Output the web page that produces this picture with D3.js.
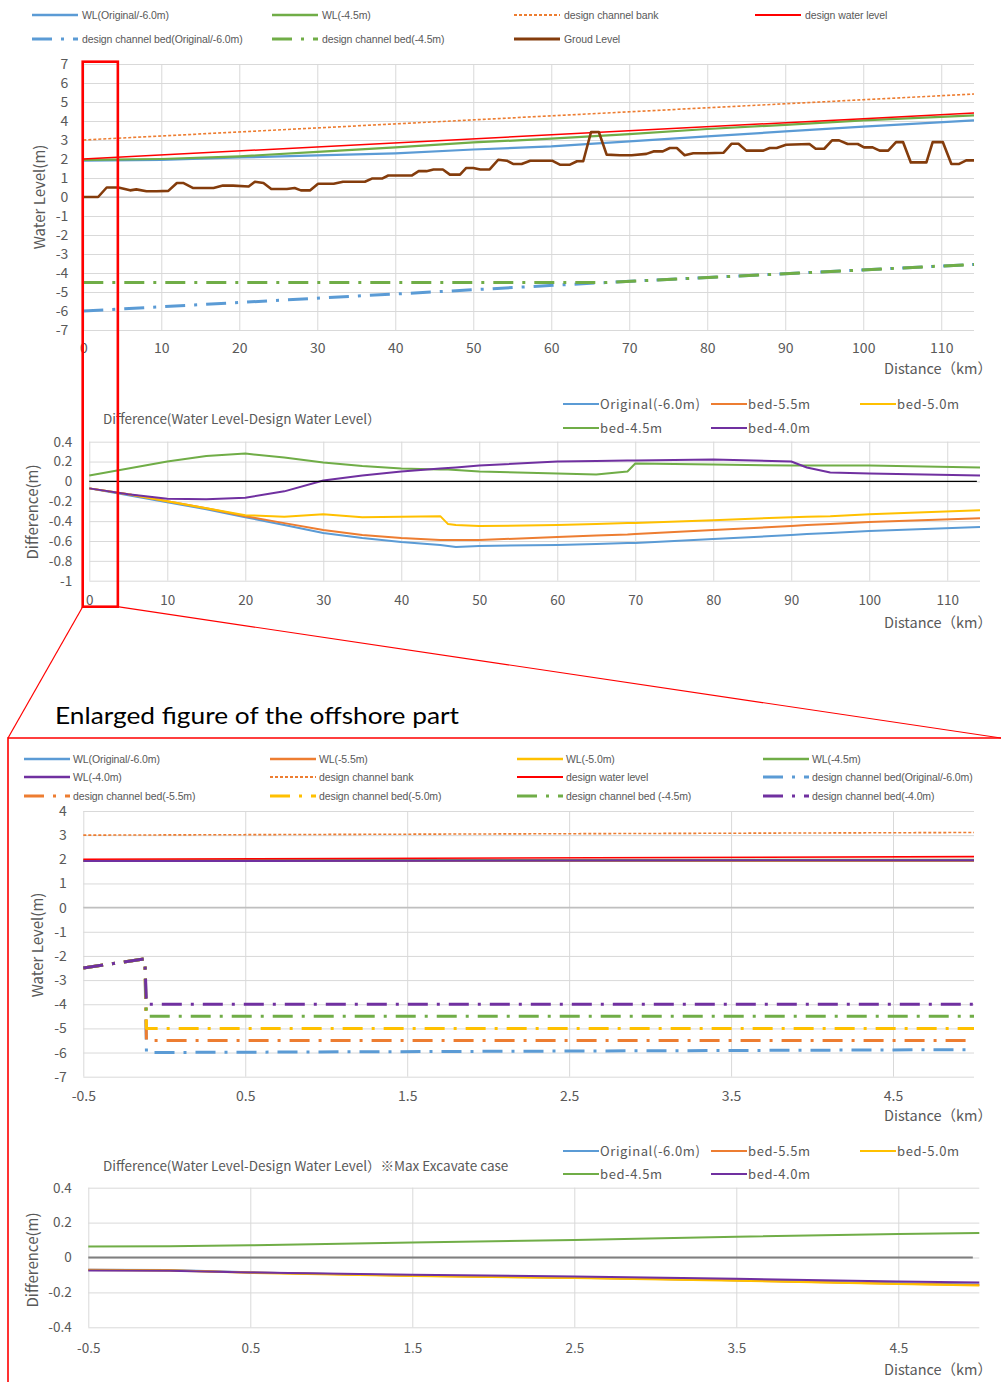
<!DOCTYPE html>
<html>
<head>
<meta charset="utf-8">
<script src="https://cdn.jsdelivr.net/npm/d3@7"></script>
<style>
  body { margin: 0; background: #fff; }
  svg text { font-family: "Noto Sans CJK JP", "Noto Sans", sans-serif; fill: #595959; }
</style>
</head>
<body>
<svg id="fig" width="1001" height="1382"></svg>
<script>
// ---------- Whole river: water level profile (km 0 - 114) ----------
const wlKm        = [0, 10, 20, 30, 40, 50, 60, 70, 80, 90, 100, 114.2];
const wlOriginal  = [1.91, 1.95, 2.08, 2.19, 2.30, 2.50, 2.66, 2.93, 3.19, 3.45, 3.70, 4.03];
const wlBed45     = [1.95, 2.00, 2.14, 2.37, 2.61, 2.87, 3.07, 3.31, 3.58, 3.80, 4.03, 4.30];
const designKm    = [0, 114.2];
const designWater = [2.0, 4.42];
const channelBank = [3.0, 5.42];
const bedKm       = [0, 67, 114.2];
const bedOriginal = [-6.0, -4.5, -3.55];
const bed45       = [-4.5, -4.5, -3.55];
const groundKm = [0, 1.9, 3.0, 4.5, 6.0, 6.8, 8.1, 9.4, 10.9, 12.0, 12.8, 14.1, 16.7, 17.9, 19.2, 21.2, 22.0, 23.1,
  24.1, 26.1, 27.1, 27.9, 29.1, 30.1, 32.1, 33.3, 36.1, 37.0, 38.3, 39.1, 42.1, 43.0, 44.0, 44.9, 46.1, 47.0,
  48.3, 49.1, 50.0, 50.9, 52.1, 53.2, 54.3, 55.1, 56.2, 57.3, 60.1, 61.1, 62.4, 63.3, 64.1, 65.1, 66.1, 67.1,
  68.8, 70.3, 72.2, 73.1, 74.3, 75.2, 76.1, 77.1, 78.2, 79.9, 82.1, 83.1, 84.0, 85.0, 87.2, 88.0, 88.9, 90.1,
  93.1, 93.9, 95.0, 96.0, 96.9, 98.0, 99.3, 100.1, 101.2, 102.1, 103.2, 104.2, 105.1, 106.1, 108.1, 108.9,
  110.2, 111.3, 112.3, 113.2, 114.2];
const groundLevel = [0, 0, 0.5, 0.5, 0.35, 0.4, 0.3, 0.3, 0.32, 0.74, 0.74, 0.47, 0.47, 0.6, 0.6, 0.55, 0.8, 0.74,
  0.42, 0.42, 0.47, 0.35, 0.35, 0.7, 0.7, 0.8, 0.8, 0.97, 0.97, 1.13, 1.13, 1.36, 1.36, 1.45, 1.45, 1.18,
  1.18, 1.53, 1.53, 1.45, 1.45, 1.96, 1.91, 1.74, 1.74, 1.91, 1.91, 1.7, 1.7, 1.88, 1.88, 3.42, 3.42, 2.23,
  2.2, 2.2, 2.27, 2.4, 2.4, 2.58, 2.58, 2.2, 2.3, 2.3, 2.33, 2.8, 2.8, 2.44, 2.44, 2.58, 2.58, 2.75,
  2.79, 2.54, 2.54, 2.98, 2.98, 2.79, 2.79, 2.61, 2.61, 2.44, 2.44, 2.89, 2.89, 1.82, 1.82, 2.89,
  2.89, 1.74, 1.74, 1.93, 1.93];
const profileYTicks = d3.range(-7, 8);
const profileXTicks = d3.range(0, 111, 10);

// ---------- Whole river: difference from design water level ----------
const diffKm       = [0, 5, 10, 15, 20, 25, 30, 35, 40, 45, 46, 47, 50, 60, 65, 69, 70, 80, 90, 92, 95, 100, 114.2];
const diffOriginal = [-0.07, -0.14, -0.21, -0.28, -0.36, -0.44, -0.52, -0.57, -0.61, -0.64, -0.65, -0.66, -0.65, -0.64, -0.63, -0.62, -0.62, -0.58, -0.54, -0.53, -0.52, -0.50, -0.46];
const diffBed55    = [-0.07, -0.13, -0.20, -0.27, -0.35, -0.42, -0.49, -0.54, -0.57, -0.59, -0.59, -0.59, -0.59, -0.56, -0.545, -0.535, -0.53, -0.49, -0.45, -0.44, -0.43, -0.41, -0.37];
const diffBed50    = [-0.07, -0.13, -0.20, -0.27, -0.34, -0.355, -0.33, -0.36, -0.355, -0.35, -0.43, -0.44, -0.45, -0.44, -0.43, -0.42, -0.42, -0.39, -0.36, -0.355, -0.35, -0.33, -0.29];
const diffBed45    = [0.06, 0.13, 0.20, 0.255, 0.28, 0.24, 0.19, 0.155, 0.13, 0.12, 0.12, 0.115, 0.10, 0.08, 0.07, 0.10, 0.18, 0.17, 0.16, 0.16, 0.16, 0.16, 0.14];
const diffBed40    = [-0.07, -0.13, -0.175, -0.18, -0.165, -0.10, 0.01, 0.06, 0.10, 0.13, 0.135, 0.14, 0.16, 0.20, 0.205, 0.21, 0.21, 0.22, 0.20, 0.14, 0.09, 0.08, 0.06];
const diffYTicks = [0.4, 0.2, 0, -0.2, -0.4, -0.6, -0.8, -1];

// ---------- Offshore part (km -0.5 - 5.0): water level profile ----------
const enlKm          = [-0.5, 5.0];
const enlWLOriginal  = [1.93, 1.95];
const enlWL55        = [1.93, 1.95];
const enlWL50        = [1.93, 1.94];
const enlWL45        = [1.95, 1.98];
const enlWL40        = [1.93, 1.96];
const enlDesignWater = [2.0, 2.11];
const enlBank        = [3.0, 3.11];
const enlBedKm       = [-0.5, -0.12, -0.11, 5.0];
const enlBedOriginal = [-2.5, -2.12, -6.0, -5.88];
const enlBed55       = [-2.5, -2.12, -5.5, -5.5];
const enlBed50       = [-2.5, -2.12, -5.0, -5.0];
const enlBed45       = [-2.5, -2.12, -4.5, -4.5];
const enlBed40       = [-2.5, -2.12, -4.0, -4.0];
const enlYTicks = d3.range(-7, 5);
const enlXTicks = [-0.5, 0.5, 1.5, 2.5, 3.5, 4.5];

// ---------- Offshore part: difference (max excavate case) ----------
const enlDiffKm       = [-0.5, 0, 0.5, 1.5, 2.5, 3.5, 4.5, 5.0];
const enlDiffOriginal = [-0.070, -0.072, -0.085, -0.103, -0.115, -0.130, -0.148, -0.155];
const enlDiffBed55    = [-0.070, -0.073, -0.086, -0.104, -0.116, -0.131, -0.150, -0.157];
const enlDiffBed50    = [-0.071, -0.074, -0.088, -0.106, -0.118, -0.133, -0.152, -0.160];
const enlDiffBed45    = [0.063, 0.065, 0.070, 0.086, 0.100, 0.119, 0.134, 0.141];
const enlDiffBed40    = [-0.075, -0.076, -0.086, -0.099, -0.109, -0.122, -0.138, -0.143];
const enlDiffYTicks = [0.4, 0.2, 0, -0.2, -0.4];

// ---------- styling ----------
const COL = { blue: "#5B9BD5", orange: "#ED7D31", yellow: "#FFC000", green: "#70AD47",
              purple: "#7030A0", red: "#FF0000", brown: "#843C0C", grid: "#d9d9d9" };
const DOT = "3,2";
const DASHDOT = "20,9,3,9";

const svg = d3.select("#fig");
const fmt = d => String(d);

function frame(x, y, xTicks, yTicks, yPad, xPad, fontSize) {
  const [x0, x1] = x.range();
  const [yb, yt] = y.range();
  const gy = svg.append("g").attr("transform", `translate(${x0},0)`)
    .call(d3.axisLeft(y).tickValues(yTicks).tickSize(-(x1 - x0)).tickPadding(yPad).tickFormat(fmt));
  const gx = svg.append("g").attr("transform", `translate(0,${yb})`)
    .call(d3.axisBottom(x).tickValues(xTicks).tickSize(-(yb - yt)).tickPadding(xPad).tickFormat(fmt));
  [gy, gx].forEach(g => {
    g.select(".domain").remove();
    g.selectAll(".tick line").attr("stroke", COL.grid).attr("stroke-width", 1);
    g.selectAll(".tick text").attr("fill", "#595959").style("font-size", fontSize + "px")
      .style("font-family", '"Noto Sans CJK JP", "Noto Sans", sans-serif');
  });
}

function series(x, y, xs, vs, color, width, dash) {
  const line = d3.line().x(d => x(d[0])).y(d => y(d[1]));
  svg.append("path").datum(d3.zip(xs, vs))
    .attr("d", line).attr("fill", "none").attr("stroke", color)
    .attr("stroke-width", width).attr("stroke-linejoin", "round")
    .attr("stroke-dasharray", dash || null);
}

function hline(x, y, v, color, width) {
  svg.append("line").attr("x1", x.range()[0]).attr("x2", x.range()[1])
    .attr("y1", y(v)).attr("y2", y(v)).attr("stroke", color).attr("stroke-width", width);
}

function yTitle(text, cx, cy) {
  svg.append("text").attr("transform", `translate(${cx},${cy}) rotate(-90)`)
    .attr("text-anchor", "middle").attr("dy", "0.35em").style("font-size", "15px").text(text);
}

// axis title "Distance（km）": the full-width closing bracket carries its own right spacing
function xTitle(text, right, cy) {
  svg.append("text").attr("x", right + 7).attr("y", cy).attr("text-anchor", "end")
    .attr("dy", "0.35em").style("font-size", "14.5px").text(text);
}

function legend(items, colX, rowY, sample, offset, fontSize, family, spacing) {
  items.forEach(it => {
    const lx = colX[it.col], ly = rowY[it.row];
    svg.append("line").attr("x1", lx).attr("x2", lx + sample).attr("y1", ly).attr("y2", ly)
      .attr("stroke", it.color).attr("stroke-width", it.width || 2.5)
      .attr("stroke-dasharray", it.dash || null);
    svg.append("text").attr("x", lx + offset).attr("y", ly).attr("dy", "0.35em")
      .style("font-size", fontSize + "px").style("font-family", family)
      .style("letter-spacing", spacing + "px").attr("fill", "#6b6b6b").text(it.label);
  });
}

// ======================= Chart 1: water level profile =======================
const x1 = d3.scaleLinear([0, 114.2], [83.3, 974]);
const y1 = d3.scaleLinear([-7, 7], [330, 64]);
frame(x1, y1, profileXTicks, profileYTicks, 15, 13, 14);
hline(x1, y1, 0, "#bfbfbf", 1.2);

series(x1, y1, wlKm, wlOriginal, COL.blue, 2.2);
series(x1, y1, wlKm, wlBed45, COL.green, 2.2);
series(x1, y1, designKm, channelBank, COL.orange, 1.6, DOT);
series(x1, y1, designKm, designWater, COL.red, 1.5);
series(x1, y1, bedKm, bedOriginal, COL.blue, 3, DASHDOT);
series(x1, y1, bedKm, bed45, COL.green, 3, DASHDOT);
series(x1, y1, groundKm, groundLevel, COL.brown, 2.6);

const LEG_SMALL = '"Liberation Sans", Arial, sans-serif';
legend([
  { label: "WL(Original/-6.0m)", color: COL.blue, col: 0, row: 0 },
  { label: "WL(-4.5m)", color: COL.green, col: 1, row: 0 },
  { label: "design channel bank", color: COL.orange, dash: DOT, width: 1.8, col: 2, row: 0 },
  { label: "design water level", color: COL.red, width: 1.8, col: 3, row: 0 },
  { label: "design channel bed(Original/-6.0m)", color: COL.blue, dash: DASHDOT, width: 3, col: 0, row: 1 },
  { label: "design channel bed(-4.5m)", color: COL.green, dash: DASHDOT, width: 3, col: 1, row: 1 },
  { label: "Groud Level", color: COL.brown, width: 2.8, col: 2, row: 1 }
], [32, 272, 514, 755], [15, 39], 46, 50, 10.5, LEG_SMALL, -0.1);

yTitle("Water Level(m)", 40, 197);
xTitle("Distance（km）", 985, 369);

// ======================= Chart 2: difference =======================
const x2 = d3.scaleLinear([0, 114.2], [89.3, 980]);
const y2 = d3.scaleLinear([-1, 0.4], [580.7, 441.7]);
frame(x2, y2, profileXTicks, diffYTicks, 17, 15, 13.5);

series(x2, y2, diffKm, diffOriginal, COL.blue, 2);
series(x2, y2, diffKm, diffBed55, COL.orange, 2);
series(x2, y2, diffKm, diffBed50, COL.yellow, 2);
series(x2, y2, diffKm, diffBed45, COL.green, 2);
series(x2, y2, diffKm, diffBed40, COL.purple, 2);
svg.append("line").attr("x1", x2(0)).attr("x2", x2(113.8)).attr("y1", y2(0)).attr("y2", y2(0))
  .attr("stroke", "#000").attr("stroke-width", 1.2);

const diffLegend = [
  { label: "Original(-6.0m)", color: COL.blue, width: 2, col: 0, row: 0 },
  { label: "bed-5.5m", color: COL.orange, width: 2, col: 1, row: 0 },
  { label: "bed-5.0m", color: COL.yellow, width: 2, col: 2, row: 0 },
  { label: "bed-4.5m", color: COL.green, width: 2, col: 0, row: 1 },
  { label: "bed-4.0m", color: COL.purple, width: 2, col: 1, row: 1 }
];
const LEG_MID = '"Noto Sans CJK JP", "Noto Sans", sans-serif';
legend(diffLegend, [563, 711, 860], [404, 428], 36, 37, 13, LEG_MID, 0.6);

svg.append("text").attr("x", 103).attr("y", 419).attr("dy", "0.35em").style("font-size", "13.5px")
  .text("Difference(Water Level-Design Water Level）");
yTitle("Difference(m)", 33, 512);
xTitle("Distance（km）", 985, 623);

// ======================= Zoom annotation =======================
svg.append("rect").attr("x", x1(0) - 0.6).attr("y", y1(7) - 2.3).attr("width", x1(4.43) - x1(0) + 0.6)
  .attr("height", 545).attr("fill", "none").attr("stroke", COL.red).attr("stroke-width", 2.6);
svg.append("line").attr("x1", 82.7).attr("y1", 606.7).attr("x2", 8).attr("y2", 738)
  .attr("stroke", COL.red).attr("stroke-width", 1.2);
svg.append("line").attr("x1", 117.3).attr("y1", 606.7).attr("x2", 1001).attr("y2", 738)
  .attr("stroke", COL.red).attr("stroke-width", 1.2);
svg.append("path").attr("d", "M1001,738H8V1382").attr("fill", "none")
  .attr("stroke", COL.red).attr("stroke-width", 1.6);

svg.append("text").attr("x", 55).attr("y", 716).attr("dy", "0.35em")
  .style("font-family", 'Lato, "Open Sans", sans-serif').style("font-size", "24px")
  .style("fill", "#000")
  .attr("textLength", 404).attr("lengthAdjust", "spacingAndGlyphs")
  .text("Enlarged figure of the offshore part");

// ======================= Chart 3: offshore water level =======================
const x3 = d3.scaleLinear([-0.5, 5.0], [83.3, 974]);
const y3 = d3.scaleLinear([-7, 4], [1076.7, 811]);
frame(x3, y3, enlXTicks, enlYTicks, 16.5, 14, 14);
hline(x3, y3, 0, "#bfbfbf", 1.5);

series(x3, y3, enlKm, enlWLOriginal, COL.blue, 2.2);
series(x3, y3, enlKm, enlWL55, COL.orange, 2.2);
series(x3, y3, enlKm, enlWL50, COL.yellow, 2.2);
series(x3, y3, enlKm, enlWL45, COL.green, 2.2);
series(x3, y3, enlKm, enlWL40, COL.purple, 2.2);
series(x3, y3, enlKm, enlBank, COL.orange, 1.6, DOT);
series(x3, y3, enlKm, enlDesignWater, COL.red, 1.6);
series(x3, y3, enlBedKm, enlBedOriginal, COL.blue, 3, DASHDOT);
series(x3, y3, enlBedKm, enlBed55, COL.orange, 3, DASHDOT);
series(x3, y3, enlBedKm, enlBed50, COL.yellow, 3, DASHDOT);
series(x3, y3, enlBedKm, enlBed45, COL.green, 3, DASHDOT);
series(x3, y3, enlBedKm, enlBed40, COL.purple, 3, DASHDOT);

legend([
  { label: "WL(Original/-6.0m)", color: COL.blue, col: 0, row: 0 },
  { label: "WL(-5.5m)", color: COL.orange, col: 1, row: 0 },
  { label: "WL(-5.0m)", color: COL.yellow, col: 2, row: 0 },
  { label: "WL(-4.5m)", color: COL.green, col: 3, row: 0 },
  { label: "WL(-4.0m)", color: COL.purple, col: 0, row: 1 },
  { label: "design channel bank", color: COL.orange, dash: DOT, width: 1.8, col: 1, row: 1 },
  { label: "design water level", color: COL.red, width: 1.8, col: 2, row: 1 },
  { label: "design channel bed(Original/-6.0m)", color: COL.blue, dash: DASHDOT, width: 3, col: 3, row: 1 },
  { label: "design channel bed(-5.5m)", color: COL.orange, dash: DASHDOT, width: 3, col: 0, row: 2 },
  { label: "design channel bed(-5.0m)", color: COL.yellow, dash: DASHDOT, width: 3, col: 1, row: 2 },
  { label: "design channel bed (-4.5m)", color: COL.green, dash: DASHDOT, width: 3, col: 2, row: 2 },
  { label: "design channel bed(-4.0m)", color: COL.purple, dash: DASHDOT, width: 3, col: 3, row: 2 }
], [24, 270, 517, 763], [759, 777, 796], 46, 49, 10.5, LEG_SMALL, -0.1);

yTitle("Water Level(m)", 38, 945);
xTitle("Distance（km）", 985, 1116);

// ======================= Chart 4: offshore difference =======================
const x4 = d3.scaleLinear([-0.5, 5.0], [88.3, 979.3]);
const y4 = d3.scaleLinear([-0.4, 0.4], [1327.3, 1187.7]);
frame(x4, y4, enlXTicks, enlDiffYTicks, 16.5, 16, 13.5);
svg.append("line").attr("x1", x4(-0.5)).attr("x2", x4(4.96)).attr("y1", y4(0)).attr("y2", y4(0))
  .attr("stroke", "#7f7f7f").attr("stroke-width", 2);

series(x4, y4, enlDiffKm, enlDiffOriginal, COL.blue, 2);
series(x4, y4, enlDiffKm, enlDiffBed55, COL.orange, 2);
series(x4, y4, enlDiffKm, enlDiffBed50, COL.yellow, 2);
series(x4, y4, enlDiffKm, enlDiffBed45, COL.green, 2);
series(x4, y4, enlDiffKm, enlDiffBed40, COL.purple, 2);

legend(diffLegend, [563, 711, 860], [1151, 1174], 36, 37, 13, LEG_MID, 0.6);
svg.append("text").attr("x", 103).attr("y", 1166).attr("dy", "0.35em").style("font-size", "13.5px")
  .text("Difference(Water Level-Design Water Level）※Max Excavate case");
yTitle("Difference(m)", 33, 1260);
xTitle("Distance（km）", 985, 1370);
</script>
</body>
</html>
